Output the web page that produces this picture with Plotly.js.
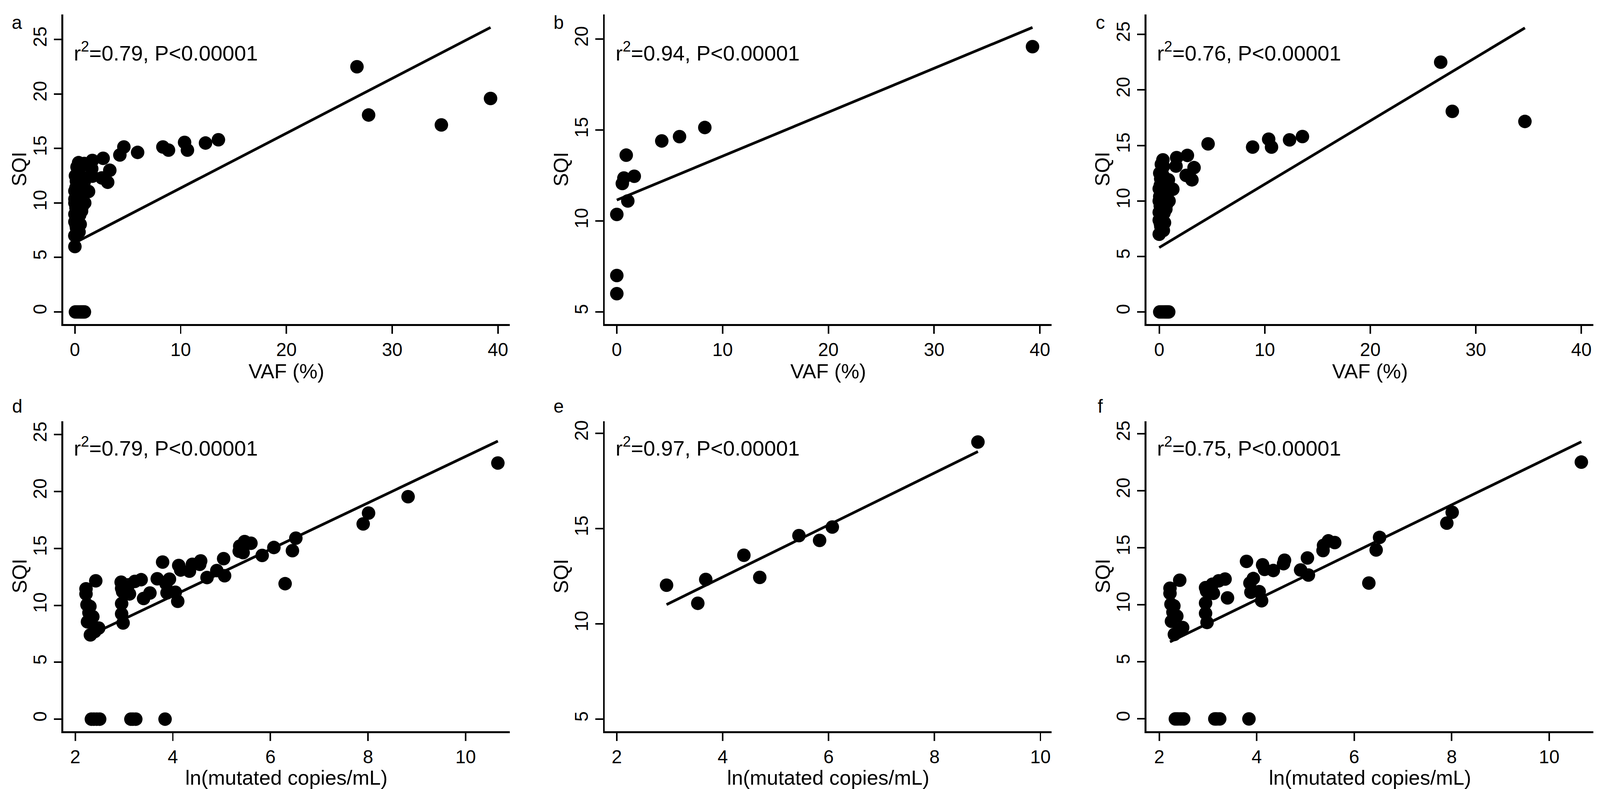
<!DOCTYPE html>
<html>
<head>
<meta charset="utf-8">
<script src="https://cdn.plot.ly/plotly-3.0.1.min.js"></script>
<style>
  html, body { margin: 0; padding: 0; background: #fff; overflow: hidden; }
</style>
</head>
<body>
<div id="chart"></div>
<script>
// Subset group (panels b and e)
const subsetVaf = [0, 0, 0, 1.04, 0.52, 0.67, 1.65, 0.89, 4.25, 5.93, 8.32, 39.3];
const subsetSqiVaf = [6.0, 7.0, 10.36, 11.1, 12.06, 12.36, 12.46, 13.62, 14.4, 14.64, 15.14, 19.59];
const subsetLn = [2.94, 3.53, 3.68, 4.40, 4.70, 5.44, 5.83, 6.07, 8.82];
const subsetSqiLn = [12.03, 11.08, 12.33, 13.6, 12.44, 14.63, 14.38, 15.08, 19.54];

// Remaining group (panels c and f)
const otherVaf = [26.67, 27.77, 34.65, 13.57, 12.35, 10.37, 10.64, 8.85, 4.63, 2.67,
    3.3, 3.1, 2.55, 1.65, 1.59, 0.35, 0.39, 0.14, 0.87, 1.29,
    0, 0.93, 0, 0.63, 0, 0.5, 0, 0.39, 0, 0.1,
    0.2, 0.1, 0.25, 0.15, 0.3, 0.05, 0.3, 0.45, 0.2, 0.6,
    0.1, 0.2, 0.05, 0.45, 0.7,
    0.05, 0.2, 0.35, 0.5, 0.6, 0.7, 0.8, 0.9];
const otherSqiVaf = [22.5, 18.07, 17.16, 15.8, 15.5, 15.56, 14.85, 14.85, 15.14, 14.1,
    13.0, 11.9, 12.3, 13.9, 13.14, 13.7, 13.1, 12.0, 11.9, 11.05,
    11.1, 10.0, 10.0, 9.26, 8.97, 8.04, 8.27, 7.34, 7.0, 11.4,
    10.6, 9.55, 8.6, 7.7, 12.4, 10.4, 9.9, 8.9, 11.8, 10.5,
    8.0, 13.3, 12.5, 11.5, 9.7,
    0, 0, 0, 0, 0, 0, 0, 0];
const otherLn = [2.22, 2.22, 2.42, 2.24, 2.30, 2.28, 2.36, 2.25, 2.48, 2.31, 2.40,
    2.95, 2.97, 2.95, 2.95, 2.98, 3.09, 3.11, 3.22, 3.35, 3.40,
    3.79, 3.93, 3.86, 4.05, 3.88, 4.10,
    4.12, 4.16, 4.34, 4.55, 4.57, 4.90, 5.04, 5.06,
    5.36, 5.37, 5.47, 5.60,
    6.30, 6.45, 6.52, 7.90, 8.01, 10.66,
    2.33, 2.38, 2.44, 2.50, 3.14, 3.18, 3.24, 3.84];
const otherSqiLn = [11.45, 11.0, 12.15, 10.05, 9.9, 9.35, 9.0, 8.55, 8.0, 7.4, 7.7,
    11.5, 11.2, 10.15, 9.25, 8.45, 11.8, 11.0, 12.1, 12.25, 10.6,
    13.8, 12.3, 11.9, 11.15, 11.1, 10.35,
    13.5, 13.1, 13.0, 13.6, 13.9, 13.05, 14.1, 12.6,
    14.75, 15.2, 15.6, 15.45,
    11.9, 14.8, 15.9, 17.15, 18.1, 22.5,
    0, 0, 0, 0, 0, 0, 0, 0];

// Per panel a..f
const panelLetters = ['a', 'b', 'c', 'd', 'e', 'f'];
const rSquared = ['0.79', '0.94', '0.76', '0.79', '0.97', '0.75'];
const fitIntercept = [6.34, 11.15, 5.8, 2.68, 7.0, 2.14];
const fitSlope = [0.503, 0.2416, 0.571, 2.04, 1.365, 2.077];

const vafTicks = [0, 10, 20, 30, 40];
const lnTicks = [2, 4, 6, 8, 10];
const sqiTicksAll = [0, 5, 10, 15, 20, 25];
const sqiTicksSubset = [5, 10, 15, 20];

// Positions are worked out on the 4198 x 2021 reference, then fitted to the real viewport
const W0 = 4198, H0 = 2021;
const W = window.innerWidth || W0;
const H = window.innerHeight || H0;
const kx = W / W0, ky = H / H0;
const k = Math.sqrt(kx * ky);

const FONT = 'Liberation Sans, Arial, sans-serif';
const colPx = [[166, 1337], [1587, 2759], [3008, 4181]];
const rowPx = [[37, 830], [1079, 1873]];

const panels = [
    { x: subsetVaf.concat(otherVaf), y: subsetSqiVaf.concat(otherSqiVaf), xr: [-1.1, 41.1], yr: [-1.11, 27.3], xt: vafTicks, yt: sqiTicksAll },
    { x: subsetVaf, y: subsetSqiVaf, xr: [-1.13, 41.1], yr: [4.33, 21.36], xt: vafTicks, yt: sqiTicksSubset },
    { x: otherVaf, y: otherSqiVaf, xr: [-1.21, 41.15], yr: [-1.09, 26.8], xt: vafTicks, yt: sqiTicksAll },
    { x: subsetLn.concat(otherLn), y: subsetSqiLn.concat(otherSqiLn), xr: [1.754, 10.9], yr: [-1.06, 26.17], xt: lnTicks, yt: sqiTicksAll },
    { x: subsetLn, y: subsetSqiLn, xr: [1.775, 10.21], yr: [4.37, 20.63], xt: lnTicks, yt: sqiTicksSubset },
    { x: otherLn, y: otherSqiLn, xr: [1.737, 10.91], yr: [-1.08, 26.08], xt: lnTicks, yt: sqiTicksAll }
];

const traces = [];
const annotations = [];
const layout = {
    width: W,
    height: H,
    margin: { t: 0, r: 0, b: 0, l: 0 },
    paper_bgcolor: '#FFFFFF',
    plot_bgcolor: '#FFFFFF',
    showlegend: false,
    font: { family: FONT, color: '#000', size: 48 * k }
};

panels.forEach((p, i) => {
    const n = i + 1;
    const col = colPx[i % 3];
    const row = rowPx[Math.floor(i / 3)];
    const suffix = n === 1 ? '' : String(n);
    const xRef = 'x' + suffix;
    const yRef = 'y' + suffix;
    const bottomRow = i >= 3;

    // scatter points
    traces.push({
        x: p.x, y: p.y, xaxis: xRef, yaxis: yRef,
        type: 'scatter', mode: 'markers',
        marker: { color: '#000', size: 35 * k, line: { width: 0 } },
        cliponaxis: false, hoverinfo: 'skip'
    });

    // fitted line over the data range
    const xs = [Math.min(...p.x), Math.max(...p.x)];
    traces.push({
        x: xs, y: xs.map(v => fitIntercept[i] + fitSlope[i] * v),
        xaxis: xRef, yaxis: yRef,
        type: 'scatter', mode: 'lines',
        line: { color: '#000', width: 7 * k }, hoverinfo: 'skip'
    });

    layout['xaxis' + suffix] = {
        domain: [col[0] / W0, col[1] / W0],
        anchor: yRef,
        range: p.xr,
        tickvals: p.xt,
        ticktext: p.xt.map(String),
        ticks: 'outside', ticklen: 20 * ky, tickwidth: 4 * kx, tickcolor: '#000',
        showline: true, linewidth: 5 * ky, linecolor: '#000',
        showgrid: false, zeroline: false,
        tickfont: { family: FONT, size: 48 * k, color: '#000' },
        title: {
            text: bottomRow ? 'ln(mutated copies/mL)' : 'VAF (%)',
            font: { family: FONT, size: 53 * k, color: '#000' },
            standoff: 6 * ky
        }
    };
    layout['yaxis' + suffix] = {
        domain: [1 - row[1] / H0, 1 - row[0] / H0],
        anchor: xRef,
        range: p.yr,
        tickvals: p.yt,
        ticktext: p.yt.map(String),
        tickangle: -90,
        ticks: 'outside', ticklen: 20 * kx, tickwidth: 4 * ky, tickcolor: '#000',
        showline: true, linewidth: 5 * kx, linecolor: '#000',
        showgrid: false, zeroline: false,
        tickfont: { family: FONT, size: 48 * k, color: '#000' }
    };

    // y axis title
    annotations.push({
        xref: 'paper', yref: 'paper',
        x: (col[0] - 115) / W0, y: 1 - (row[0] + row[1]) / 2 / H0,
        xanchor: 'center', yanchor: 'middle',
        text: 'SQI', textangle: -90,
        showarrow: false,
        font: { family: FONT, size: 52 * k, color: '#000' }
    });

    // r^2 label
    annotations.push({
        xref: 'paper', yref: 'paper',
        x: (col[0] + 26) / W0, y: 1 - (bottomRow ? 1144 : 132) / H0,
        xanchor: 'left', yanchor: 'middle',
        text: 'r<sup>2</sup>=' + rSquared[i] + ', P&lt;0.00001',
        showarrow: false,
        font: { family: FONT, size: 55 * k, color: '#000' }
    });

    // panel letter
    annotations.push({
        xref: 'paper', yref: 'paper',
        x: (col[0] - 121) / W0, y: 1 - (bottomRow ? 1040 : 58) / H0,
        xanchor: 'center', yanchor: 'middle',
        text: panelLetters[i],
        showarrow: false,
        font: { family: FONT, size: 48 * k, color: '#000' }
    });
});

layout.annotations = annotations;

Plotly.newPlot('chart', traces, layout, { displayModeBar: false, staticPlot: true });
</script>
</body>
</html>
